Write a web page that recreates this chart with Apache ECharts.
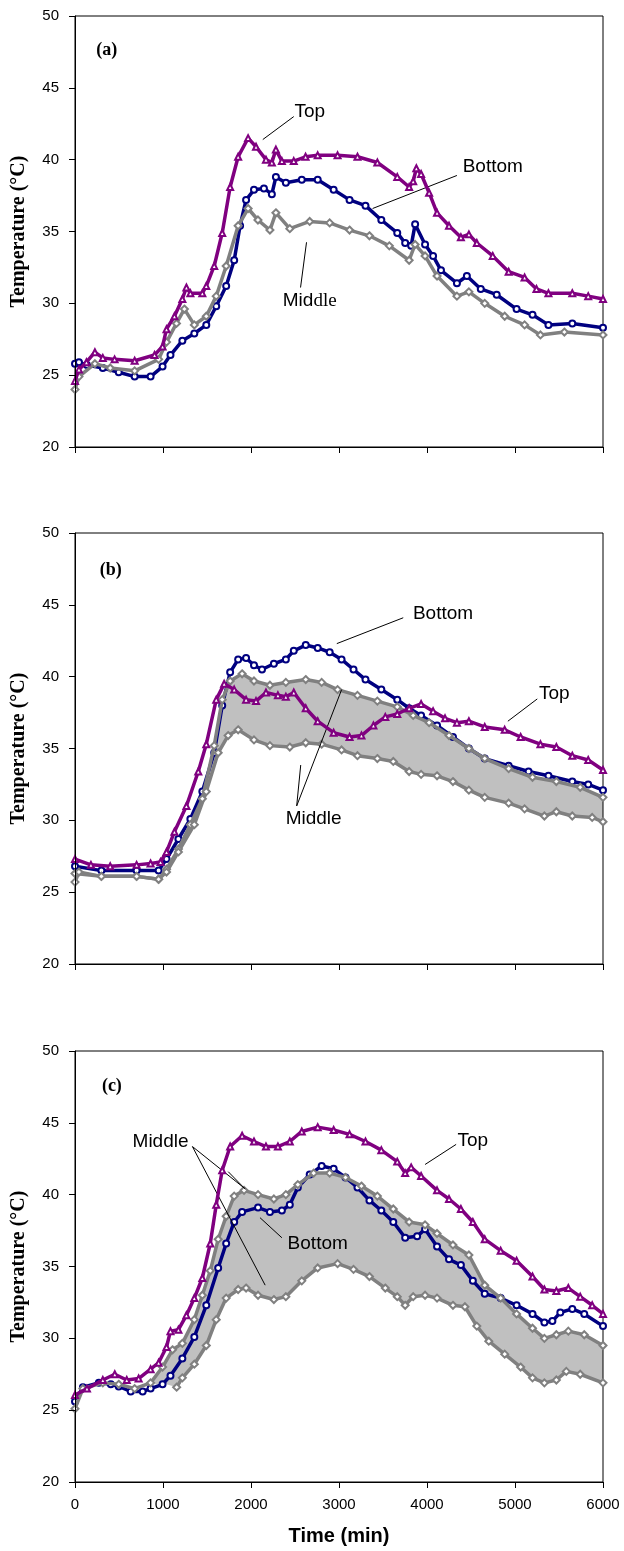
<!DOCTYPE html>
<html><head><meta charset="utf-8">
<script src="https://cdn.jsdelivr.net/npm/echarts@6/dist/echarts.min.js"></script>
<style>html,body{margin:0;padding:0;background:#fff}#c{width:624px;height:1551px}</style>
</head><body><div id="c"></div>
<script>
// ---- axis ticks ----
const timeTicks = [0, 1000, 2000, 3000, 4000, 5000, 6000];
const tempTicks = [20, 25, 30, 35, 40, 45, 50];

// ---- panel (a) ----  [time (min), temperature (°C)]
const aTop = [[0,24.6],[45,25.4],[130,25.9],[226,26.6],[316,26.2],[450,26.1],[678,26.0],[904,26.4],[995,27.0],[1040,28.2],[1130,29.1],[1220,30.3],[1266,31.1],[1311,30.7],[1447,30.7],[1492,31.2],[1582,32.6],[1673,34.9],[1763,38.1],[1854,40.2],[1967,41.5],[2057,40.9],[2170,40.0],[2237,39.8],[2283,40.7],[2351,39.9],[2486,39.9],[2620,40.2],[2758,40.3],[2984,40.3],[3210,40.2],[3436,39.8],[3662,38.8],[3797,38.1],[3843,38.5],[3879,39.4],[3933,39.0],[4024,37.7],[4114,36.3],[4250,35.4],[4385,34.6],[4476,34.8],[4566,34.2],[4747,33.3],[4928,32.2],[5109,31.8],[5244,31.0],[5380,30.7],[5651,30.7],[5832,30.5],[6000,30.3]];
const aBottom = [[0,25.8],[45,25.9],[136,25.7],[316,25.5],[497,25.2],[678,24.9],[859,24.9],[995,25.6],[1085,26.4],[1220,27.4],[1356,27.9],[1492,28.5],[1605,29.8],[1718,31.2],[1809,33.0],[1876,35.4],[1944,37.2],[2034,37.9],[2147,38.0],[2237,37.6],[2283,38.8],[2396,38.4],[2577,38.6],[2758,38.6],[2939,37.9],[3120,37.2],[3301,36.8],[3481,35.8],[3662,34.9],[3752,34.2],[3820,34.0],[3865,35.5],[3978,34.1],[4069,33.3],[4159,32.3],[4340,31.4],[4453,31.9],[4611,31.0],[4792,30.6],[5018,29.6],[5199,29.2],[5380,28.5],[5651,28.6],[6000,28.3]];
const aMiddle = [[0,24.0],[45,24.9],[226,25.8],[400,25.5],[678,25.3],[950,26.1],[1040,27.3],[1153,28.6],[1243,29.6],[1356,28.5],[1492,29.1],[1605,30.5],[1718,32.6],[1854,35.4],[1967,36.6],[2079,35.8],[2215,35.1],[2283,36.3],[2441,35.2],[2667,35.7],[2894,35.6],[3120,35.1],[3346,34.7],[3572,34.0],[3797,33.0],[3865,34.1],[3978,33.3],[4114,31.9],[4340,30.5],[4476,30.8],[4656,30.0],[4883,29.1],[5109,28.5],[5289,27.8],[5561,28.0],[6000,27.8]];

// ---- panel (b) ----
const bTop = [[0,27.3],[181,26.9],[400,26.8],[700,26.9],[859,27.0],[972,27.1],[1040,27.8],[1130,29.2],[1266,31.0],[1401,33.4],[1492,35.3],[1605,38.4],[1695,39.5],[1809,39.1],[1944,38.4],[2057,38.3],[2170,38.9],[2306,38.7],[2396,38.6],[2486,38.9],[2622,37.8],[2758,36.9],[2939,36.1],[3120,35.8],[3255,35.9],[3391,36.6],[3526,37.2],[3662,37.4],[3797,37.8],[3933,38.1],[4069,37.6],[4205,37.1],[4340,36.8],[4476,36.9],[4656,36.5],[4883,36.3],[5064,35.8],[5289,35.3],[5470,35.1],[5651,34.5],[5832,34.2],[6000,33.5]];
const bBottom = [[0,26.8],[300,26.5],[700,26.5],[950,26.5],[1040,27.3],[1175,28.7],[1311,30.1],[1447,32.0],[1582,34.7],[1673,38.0],[1763,40.3],[1854,41.2],[1944,41.3],[2034,40.8],[2125,40.5],[2260,40.9],[2396,41.2],[2486,41.8],[2622,42.2],[2758,42.0],[2894,41.7],[3029,41.2],[3165,40.5],[3301,39.8],[3481,39.1],[3662,38.4],[3797,37.8],[3933,37.3],[4114,36.6],[4295,35.8],[4476,35.0],[4656,34.3],[4928,33.8],[5154,33.4],[5380,33.1],[5651,32.7],[5832,32.5],[6000,32.1]];
const bMiddleUpper = [[0,26.3],[300,26.1],[700,26.1],[950,25.9],[1040,26.6],[1175,28.0],[1311,29.7],[1447,31.5],[1582,35.2],[1673,38.4],[1763,39.7],[1899,40.2],[2034,39.7],[2215,39.4],[2396,39.6],[2622,39.8],[2803,39.6],[2984,39.1],[3210,38.7],[3436,38.3],[3662,37.9],[3843,37.3],[4024,36.8],[4250,35.9],[4476,35.0],[4656,34.3],[4928,33.6],[5199,33.0],[5470,32.7],[5741,32.3],[6000,31.6]];
const bMiddleLower = [[0,25.7],[45,26.4],[300,26.1],[700,26.1],[950,25.9],[1040,26.4],[1175,27.8],[1356,29.7],[1492,32.0],[1627,34.7],[1740,35.9],[1854,36.3],[2034,35.6],[2215,35.2],[2441,35.1],[2622,35.4],[2803,35.3],[3029,34.9],[3210,34.5],[3436,34.3],[3617,34.1],[3797,33.4],[3933,33.2],[4114,33.1],[4295,32.7],[4476,32.1],[4656,31.6],[4928,31.2],[5109,30.8],[5334,30.3],[5470,30.6],[5651,30.3],[5877,30.2],[6000,29.9]];

// ---- panel (c) ----
const cTop = [[0,26.05],[136,26.5],[316,27.1],[452,27.5],[588,27.1],[723,27.2],[859,27.85],[950,28.3],[1040,29.4],[1085,30.5],[1175,30.6],[1266,31.6],[1356,32.8],[1447,34.2],[1537,36.6],[1605,39.3],[1673,41.7],[1763,43.35],[1899,44.1],[2034,43.7],[2170,43.35],[2306,43.35],[2441,43.7],[2577,44.4],[2758,44.7],[2939,44.5],[3120,44.2],[3301,43.7],[3481,43.1],[3662,42.3],[3752,41.5],[3820,41.9],[3933,41.3],[4114,40.3],[4250,39.7],[4385,39.0],[4521,38.1],[4656,36.9],[4837,36.1],[5018,35.4],[5199,34.3],[5334,33.4],[5470,33.3],[5606,33.5],[5741,32.9],[5877,32.3],[6000,31.7]];
const cBottom = [[0,25.6],[90,26.6],[271,26.9],[407,26.8],[497,26.65],[633,26.3],[769,26.3],[859,26.5],[995,26.8],[1085,27.4],[1220,28.6],[1356,30.1],[1492,32.3],[1627,34.9],[1718,36.6],[1809,38.1],[1899,38.8],[2080,39.1],[2215,38.8],[2351,38.9],[2441,39.3],[2532,40.5],[2667,41.4],[2803,42.0],[2939,41.8],[3074,41.2],[3210,40.5],[3346,39.6],[3481,38.9],[3617,38.1],[3752,37.0],[3888,37.1],[3978,37.6],[4114,36.4],[4250,35.5],[4385,35.1],[4521,34.0],[4656,33.1],[4837,32.8],[5018,32.3],[5199,31.7],[5334,31.1],[5425,31.2],[5515,31.8],[5651,32.05],[5787,31.7],[6000,30.85]];
const cMiddleUpper = [[0,25.1],[90,26.5],[316,26.9],[497,26.8],[678,26.5],[859,26.9],[995,28.0],[1108,29.2],[1220,29.65],[1356,31.3],[1447,33.0],[1537,34.7],[1627,36.9],[1718,38.5],[1809,39.9],[1921,40.3],[2080,40.0],[2260,39.7],[2396,40.0],[2532,40.7],[2712,41.5],[2894,41.5],[3074,41.2],[3255,40.6],[3436,39.9],[3617,39.0],[3797,38.1],[3978,37.9],[4114,37.3],[4295,36.5],[4476,35.8],[4656,33.7],[4837,32.8],[5018,31.7],[5199,30.7],[5334,30.0],[5470,30.25],[5606,30.5],[5787,30.25],[6000,29.5]];
const cMiddleLower = [[0,25.1],[90,26.5],[316,26.9],[497,26.8],[678,26.5],[859,26.8],[1040,26.8],[1155,26.6],[1220,27.25],[1356,28.2],[1492,29.5],[1605,31.3],[1718,32.8],[1854,33.4],[1944,33.5],[2080,33.0],[2260,32.7],[2396,32.9],[2577,34.0],[2758,34.9],[2984,35.2],[3165,34.8],[3346,34.3],[3526,33.5],[3662,32.9],[3752,32.3],[3843,32.9],[3978,33.0],[4114,32.8],[4295,32.3],[4431,32.2],[4566,30.85],[4702,29.8],[4883,28.9],[5064,28.0],[5199,27.25],[5334,26.9],[5470,27.1],[5583,27.7],[5741,27.5],[6000,26.9]];
// the lower middle sensor trace in (c) is only plotted from this time on
const cMiddleLowerStart = 1155;

// ---- annotations (data coordinates) ----
const notesA = [
  {text:'(a)', at:[362,47.6], panel:true},
  {text:'Top', at:[2667,43.3]},
  {text:'Bottom', at:[4747,39.5]},
  {text:'{s|Mid}{t|dle}', at:[2667,30.15]}
];
const arrowsA = [[[2486,43.0],[2134,41.4]], [[4340,38.9],[3382,36.6]], [[2563,31.1],[2631,34.25]]];
const notesB = [
  {text:'(b)', at:[407,47.4], panel:true},
  {text:'Bottom', at:[4182,44.35]},
  {text:'Top', at:[5447,38.8]},
  {text:'Middle', at:[2712,30.1]}
];
const arrowsB = [[[3730,44.1],[2975,42.3]], [[5253,38.45],[4919,36.9]], [[2519,31.0],[3030,39.1]], [[2519,31.0],[2565,33.85]]];
const notesC = [
  {text:'(c)', at:[419,47.55], panel:true},
  {text:'Middle', at:[972,43.7]},
  {text:'Bottom', at:[2758,36.6]},
  {text:'Top', at:[4521,43.75]}
];
const arrowsC = [[[1334,43.35],[1935,40.4]], [[1334,43.35],[2161,33.7]], [[1741,41.6],[1925,40.45]], [[2351,37.0],[2102,38.4]], [[4331,43.5],[3978,42.1]]];

const TOP_C = '#800080', BOT_C = '#000080', MID_C = '#808080', BAND_C = '#C0C0C0';
const SANS = 'Liberation Sans, Arial, sans-serif';
const SERIF = 'Liberation Serif, Times New Roman, serif';

const panels = [
  {top:16, topS:aTop, botS:aBottom, mids:[aMiddle], band:null, notes:notesA, arrows:arrowsA},
  {top:533, topS:bTop, botS:bBottom, mids:[bMiddleUpper,bMiddleLower], band:[bMiddleUpper,bMiddleLower], notes:notesB, arrows:arrowsB},
  {top:1051, topS:cTop, botS:cBottom, mids:[cMiddleUpper,cMiddleLower.filter(d => d[0] >= cMiddleLowerStart)], band:[cMiddleUpper,cMiddleLower], notes:notesC, arrows:arrowsC}
];

const grid = [], xAxis = [], yAxis = [], series = [];
panels.forEach((p, i) => {
  grid.push({left:75, right:21, top:p.top, height:431, show:true, borderColor:'#000', borderWidth:1, backgroundColor:'transparent', z:3});
  const last = i === panels.length - 1;
  xAxis.push({
    type:'value', gridIndex:i, min:timeTicks[0], max:timeTicks[timeTicks.length-1],
    interval:timeTicks[1]-timeTicks[0], z:10,
    axisLine:{show:true, onZero:false, lineStyle:{color:'#000', width:1}},
    axisTick:{show:true, inside:false, length:6, lineStyle:{color:'#000'}},
    axisLabel:{show:last, color:'#000', fontSize:15, fontFamily:SANS, margin:15, formatter:v => String(v)},
    splitLine:{show:false},
    name: last ? 'Time (min)' : '', nameLocation:'middle', nameGap:44,
    nameTextStyle:{color:'#000', fontSize:20, fontWeight:'bold', fontFamily:SANS}
  });
  yAxis.push({
    type:'value', gridIndex:i, min:tempTicks[0], max:tempTicks[tempTicks.length-1],
    interval:tempTicks[1]-tempTicks[0], z:10,
    axisLine:{show:true, onZero:false, lineStyle:{color:'#000', width:1}},
    axisTick:{show:true, inside:false, length:6, lineStyle:{color:'#000'}},
    axisLabel:{color:'#000', fontSize:15, fontFamily:SANS, margin:16},
    splitLine:{show:false},
    name:'Temperature (°C)', nameLocation:'middle', nameGap:46, nameRotate:90,
    nameTextStyle:{color:'#000', fontSize:20, fontWeight:'bold', fontFamily:SERIF}
  });
  const base = {type:'line', xAxisIndex:i, yAxisIndex:i, animation:false, silent:true, smooth:false};
  if (p.band) {
    series.push(Object.assign({}, base, {data:p.band[0], showSymbol:false, symbol:'none', lineStyle:{width:0}, areaStyle:{color:BAND_C, opacity:1, origin:'start'}, z:-2}));
    series.push(Object.assign({}, base, {data:p.band[1], showSymbol:false, symbol:'none', lineStyle:{width:0}, areaStyle:{color:'#ffffff', opacity:1, origin:'start'}, z:-1}));
  }
  series.push(Object.assign({}, base, {name:'Bottom', data:p.botS, symbol:'emptyCircle', symbolSize:6, itemStyle:{color:BOT_C, borderWidth:1.2}, lineStyle:{color:BOT_C, width:3.5}, z:3}));
  p.mids.forEach(m => {
    series.push(Object.assign({}, base, {name:'Middle', data:m, symbol:'emptyDiamond', symbolSize:7, itemStyle:{color:MID_C, borderWidth:1.2}, lineStyle:{color:MID_C, width:3.5}, z:4}));
  });
  series.push(Object.assign({}, base, {
    name:'Top', data:p.topS, symbol:'emptyTriangle', symbolSize:6, itemStyle:{color:TOP_C, borderWidth:1.2}, lineStyle:{color:TOP_C, width:3.5}, z:5,
    markPoint:{
      silent:true, animation:false, symbol:'rect', symbolSize:1, itemStyle:{color:'rgba(0,0,0,0)'},
      data:p.notes.map(n => ({coord:n.at, value:0, label:{
        show:true, position:'inside', formatter:n.text, color:'#000',
        fontSize: n.panel ? 18 : 19, fontWeight: n.panel ? 'bold' : 'normal',
        fontFamily: n.panel ? SERIF : SANS,
        rich:{s:{fontSize:19, fontFamily:SANS, color:'#000'}, t:{fontSize:19, fontFamily:SERIF, color:'#000'}}
      }}))
    },
    markLine:{
      silent:true, animation:false, symbol:['none','arrow'], symbolSize:[0,9],
      lineStyle:{color:'#000', width:1, type:'solid'}, label:{show:false},
      data:p.arrows.map(a => [{coord:a[0]}, {coord:a[1]}])
    }
  }));
});

const chart = echarts.init(document.getElementById('c'), null, {renderer:'canvas', width:624, height:1551});
chart.setOption({backgroundColor:'#fff', animation:false, grid, xAxis, yAxis, series});
</script></body></html>
